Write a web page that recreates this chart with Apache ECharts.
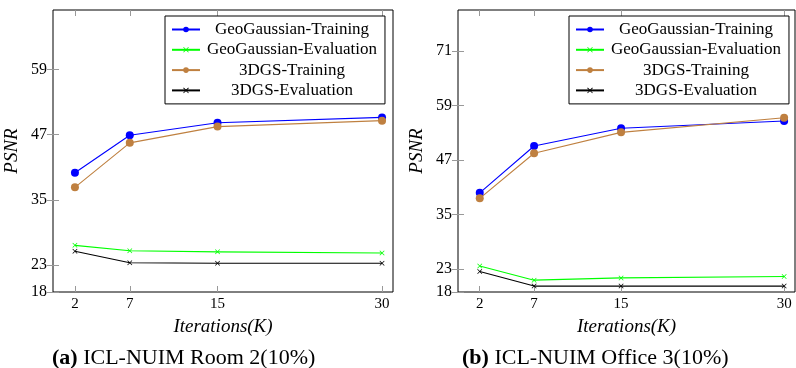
<!DOCTYPE html>
<html>
<head>
<meta charset="utf-8">
<script src="https://cdn.jsdelivr.net/npm/echarts@6/dist/echarts.min.js"></script>
<style>
  html, body { margin: 0; padding: 0; background: #fff; }
  #chart { width: 796px; height: 368px; }
</style>
</head>
<body>
<div id="chart"></div>
<script>
// iterations in thousands
var iterations = [2, 7, 15, 30];
var seriesNames = ['GeoGaussian-Training', 'GeoGaussian-Evaluation', '3DGS-Training', '3DGS-Evaluation'];

// (a) ICL-NUIM Room 2
var room2GeoTrain = [40.0, 46.9, 49.2, 50.2];
var room2GeoEval = [26.6, 25.6, 25.4, 25.2];
var room2DgsTrain = [37.3, 45.5, 48.5, 49.6];
var room2DgsEval = [25.5, 23.4, 23.3, 23.3];

// (b) ICL-NUIM Office 3
var office3GeoTrain = [39.8, 50.1, 54.0, 55.6];
var office3GeoEval = [23.7, 20.6, 21.1, 21.4];
var office3DgsTrain = [38.6, 48.5, 53.1, 56.3];
var office3DgsEval = [22.5, 19.3, 19.3, 19.3];

var xTicks = [2, 7, 15, 30];
var yTicksA = [18, 23, 35, 47, 59];
var yTicksB = [18, 23, 35, 47, 59, 71];

var FONT = '"Liberation Serif", "DejaVu Serif", serif';
var colors = ['#0000ff', '#00ff00', '#bf8040', '#000000'];
var crossPath = 'path://M0,1L1,0L5,4L9,0L10,1L6,5L10,9L9,10L5,6L1,10L0,9L4,5Z';

function pairs(ys) {
  return iterations.map(function (x, i) { return [x, ys[i]]; });
}

function makeSeries(idx, lists) {
  return lists.map(function (ys, k) {
    var isCross = k % 2 === 1;
    return {
      name: seriesNames[k],
      type: 'line',
      xAxisIndex: idx * 2,
      yAxisIndex: idx * 2,
      data: pairs(ys),
      symbol: isCross ? crossPath : 'circle',
      symbolSize: isCross ? 5 : 8,
      showSymbol: true,
      lineStyle: { color: colors[k], width: 1.1 },
      itemStyle: { color: colors[k] },
      emphasis: { disabled: true },
      animation: false
    };
  });
}

function xAxes(gridIndex) {
  var base = {
    type: 'value', gridIndex: gridIndex, min: 0, max: 31,
    splitLine: { show: false },
    axisLine: { show: false },
    axisTick: { show: true, inside: true, length: 6, customValues: xTicks, lineStyle: { color: '#999' } }
  };
  return [
    Object.assign({}, base, {
      position: 'bottom',
      axisLabel: { customValues: xTicks, color: '#000', fontFamily: FONT, fontSize: 15, margin: 5 },
      name: 'Iterations(K)', nameLocation: 'middle', nameGap: 25,
      nameTextStyle: { fontFamily: FONT, fontStyle: 'italic', fontSize: 19, color: '#000' }
    }),
    Object.assign({}, base, { position: 'top', axisLabel: { show: false } })
  ];
}

function yAxes(gridIndex, max, ticks) {
  var base = {
    type: 'value', gridIndex: gridIndex, min: 18, max: max,
    splitLine: { show: false },
    axisLine: { show: false },
    axisTick: { show: true, inside: true, length: 6, customValues: ticks, lineStyle: { color: '#999' } }
  };
  return [
    Object.assign({}, base, {
      position: 'left',
      axisLabel: { customValues: ticks, color: '#000', fontFamily: FONT, fontSize: 16, margin: 6 },
      name: 'PSNR', nameLocation: 'middle', nameGap: 32,
      nameTextStyle: { fontFamily: FONT, fontStyle: 'italic', fontSize: 19, color: '#000' }
    }),
    Object.assign({}, base, { position: 'right', axisLabel: { show: false } })
  ];
}

function makeLegend(left) {
  return {
    left: left, top: 16, orient: 'vertical',
    data: seriesNames,
    itemWidth: 28, itemHeight: 7, itemGap: 3.3,
    padding: [5, 8, 5, 6],
    borderColor: '#000', borderWidth: 1, backgroundColor: '#fff',
    selectedMode: false,
    formatter: function (name) { return '{c|' + name + '}'; },
    textStyle: {
      rich: { c: { width: 174, align: 'center', fontFamily: FONT, fontSize: 17, color: '#000' } }
    }
  };
}

var chart = echarts.init(document.getElementById('chart'), null, { renderer: 'canvas' });

var capStyle = {
  fontFamily: FONT, fontSize: 22, fontWeight: 'normal', color: '#000',
  rich: { b: { fontFamily: FONT, fontSize: 22, fontWeight: 'bold', color: '#000' } }
};

chart.setOption({
  backgroundColor: '#fff',
  animation: false,
  title: [
    { left: 52, top: 347, padding: 0, text: '{b|(a)} ICL-NUIM Room 2(10%)', textStyle: capStyle },
    { left: 462, top: 347, padding: 0, text: '{b|(b)} ICL-NUIM Office 3(10%)', textStyle: capStyle }
  ],
  legend: [makeLegend(165), makeLegend(569)],
  grid: [
    { left: 53, top: 10, width: 340, height: 282, show: true, borderColor: '#000', borderWidth: 1, backgroundColor: 'transparent' },
    { left: 458, top: 10, width: 337, height: 282, show: true, borderColor: '#000', borderWidth: 1, backgroundColor: 'transparent' }
  ],
  xAxis: xAxes(0).concat(xAxes(1)),
  yAxis: yAxes(0, 70, yTicksA).concat(yAxes(1, 80, yTicksB)),
  series: makeSeries(0, [room2GeoTrain, room2GeoEval, room2DgsTrain, room2DgsEval])
    .concat(makeSeries(1, [office3GeoTrain, office3GeoEval, office3DgsTrain, office3DgsEval]))
});
</script>
</body>
</html>
